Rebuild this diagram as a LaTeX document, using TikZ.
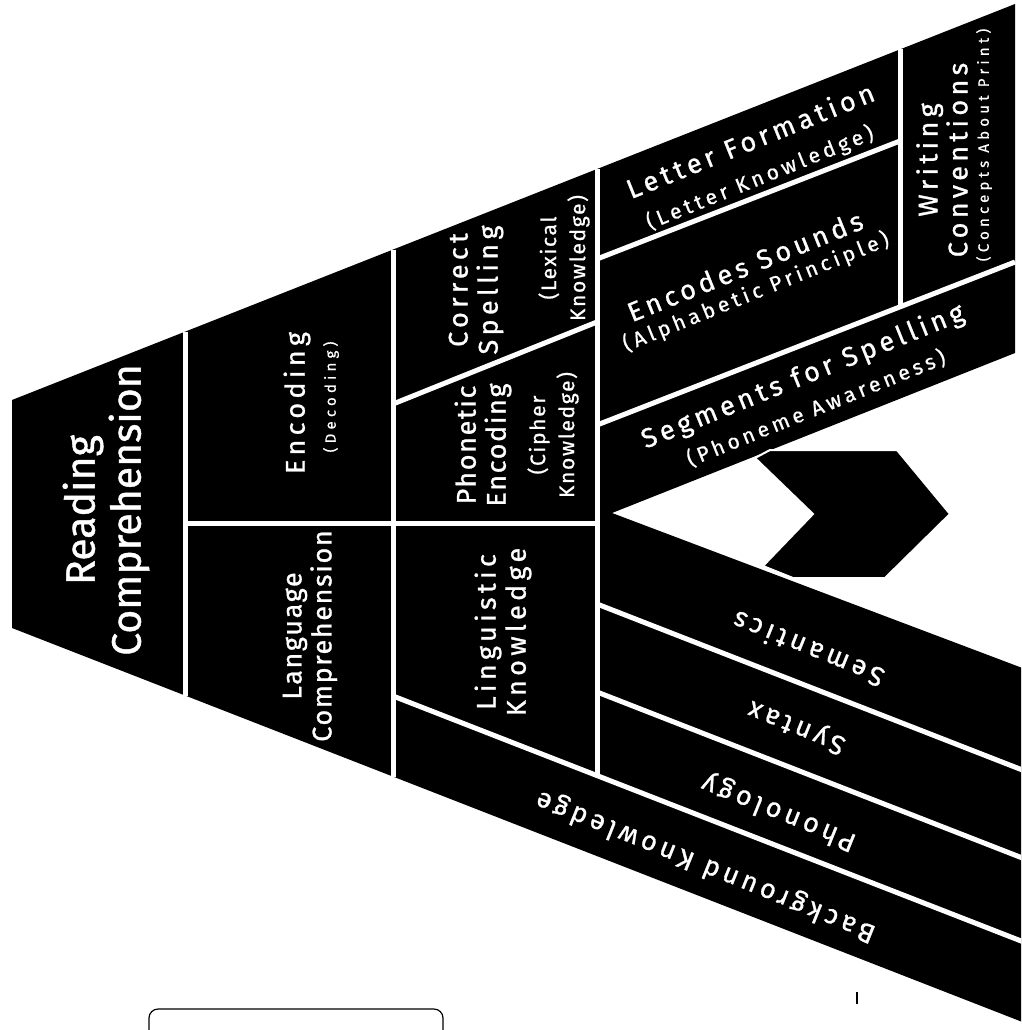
\documentclass[tikz,border=0pt]{standalone}
\usepackage{fontspec}
\setmainfont{Fira Sans}
\newfontfamily\rcFont[FakeBold=1]{Fira Sans}
\newfontfamily\titleFont[LetterSpace=16, FakeBold=1]{Fira Sans}
\newfontfamily\titleTightFont[LetterSpace=6, FakeBold=1]{Fira Sans}
\newfontfamily\subFont[LetterSpace=19, FakeBold=0.8]{Fira Sans}
\newfontfamily\subNarrowFont[LetterSpace=8, FakeBold=0.8]{Fira Sans}
\newfontfamily\tinyFont[LetterSpace=28, FakeBold=0.6]{Fira Sans}
\usepackage{tikz}
\definecolor{inkBlack}{RGB}{0,0,0}
\definecolor{paperWhite}{RGB}{255,255,255}

\begin{document}
\begin{tikzpicture}[x=1pt, y=-1pt, every node/.style={text=paperWhite, align=center, inner sep=0pt},
    rcText/.style={font=\rcFont\fontsize{41}{46}\selectfont},
    titleText/.style={font=\titleFont\fontsize{27}{30}\selectfont},
    titleTight/.style={font=\titleTightFont\fontsize{27}{30}\selectfont},
    subText/.style={font=\subFont\fontsize{21}{25}\selectfont},
    subNarrow/.style={font=\subNarrowFont\fontsize{21}{29}\selectfont},
    tinyText/.style={font=\tinyFont\fontsize{15}{18}\selectfont},
    divider/.style={draw=paperWhite, line width=5pt},
    upright/.style={rotate=90}, upArm/.style={rotate=22}, downArm/.style={rotate=158}]
    \useasboundingbox (0,0) rectangle (1021,1030);
    \clip (0,0) rectangle (1021,1030);

    \fill[inkBlack] (12,400) -- (1015,4) -- (1015,353) -- (612,513) -- (1025,669) -- (1025,1023) -- (12,628) -- cycle;
    \fill[inkBlack, draw=paperWhite, line width=2pt] (755,458) -- (770,450) -- (897,450) -- (950,514) -- (885,578) -- (793,578) -- (763,566) -- (813,514) -- cycle;

    \draw[divider] (185,331.7) -- (185,695.5);
    \draw[divider] (393,249.5) -- (393,776.6);
    \draw[divider] (597,168.9) -- (597,776);
    \draw[divider] (185,523) -- (597,523);
    \draw[divider] (393,404) -- (597,322);
    \draw[divider] (393,696) -- (1025,942.5);
    \draw[divider] (597,604) -- (1025,771);
    \draw[divider] (597,692) -- (1025,859);
    \draw[divider] (597,259) -- (900,141);
    \draw[divider] (597,425) -- (1015,262);
    \draw[divider] (900,49.2) -- (900,307);

    \node[rcText, upright] (reading) at (106,510) {Reading\\Comprehension};
    \node[titleText, upright] (encoding) at (297,403) {Encoding};
    \node[tinyText, upright] (decoding) at (331,397) {(Decoding)};
    \node[titleTight, upright] (language) at (310,636) {Language\\Comprehension};
    \node[titleText, upright] (spelling) at (476,290) {Correct\\Spelling};
    \node[subNarrow, upright] (lexical) at (564,258) {(Lexical\\Knowledge)};
    \node[titleTight, upright] (phonetic) at (483,445) {Phonetic\\Encoding};
    \node[subNarrow, upright] (cipher) at (553,435) {(Cipher\\Knowledge)};
    \node[titleText, upright] (linguistic) at (503,632) {Linguistic\\Knowledge};
    \node[titleText, upright] (writing) at (942,160) {Writing\\Conventions};
    \node[tinyText, upright] (print) at (984,145) {(Concepts About Print)};

    \node[titleText, upArm] (letters) at (750,140) {Letter Formation};
    \node[subText, upArm] (letterknow) at (760,178) {(Letter Knowledge)};
    \node[titleText, upArm] (sounds) at (745,266) {Encodes Sounds};
    \node[subText, upArm] (alphabetic) at (756,292) {(Alphabetic Principle)};
    \node[titleText, upArm] (segments) at (803,377) {Segments for Spelling};
    \node[subText, upArm] (phoneme) at (816,408) {(Phoneme Awareness)};

    \node[titleText, downArm] (semantics) at (808,650) {Semantics};
    \node[titleText, downArm] (syntax) at (797,726) {Syntax};
    \node[titleText, downArm] (phonology) at (779,812) {Phonology};
    \node[titleText, downArm] (background) at (706,866) {Background Knowledge};

    \draw[inkBlack, line width=1.2pt, rounded corners=9pt] (149,1009) rectangle (443,1060);
    \draw[inkBlack, line width=1.2pt] (857,992) -- (857,1004);
\end{tikzpicture}
\end{document}
